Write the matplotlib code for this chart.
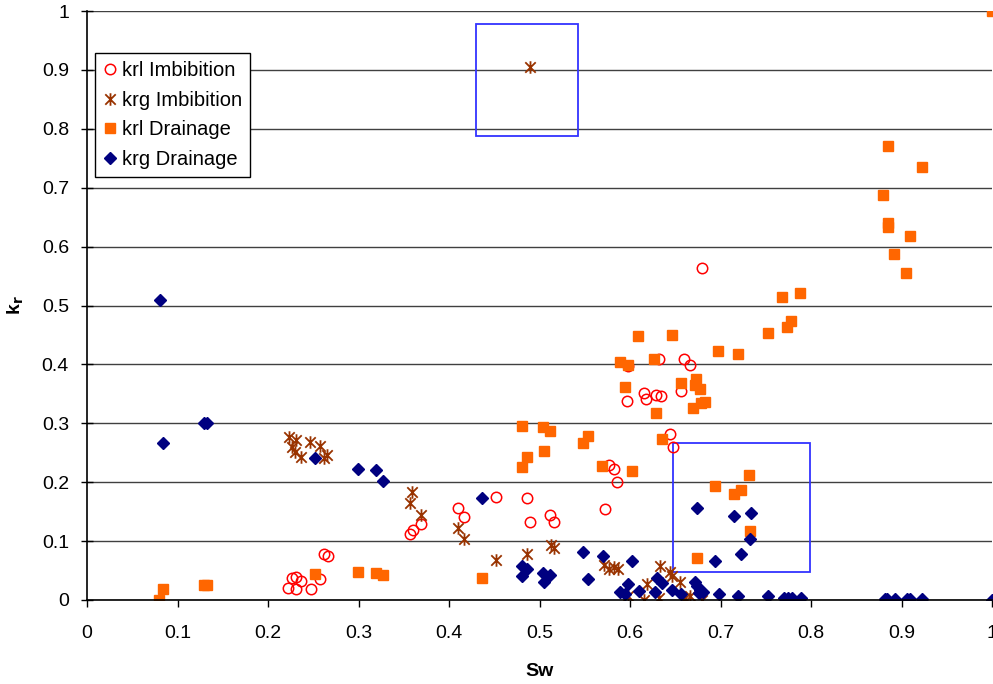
import matplotlib
matplotlib.use("Agg")
import matplotlib.pyplot as plt
from matplotlib.path import Path
from matplotlib.patches import Rectangle

plt.rcParams['font.family'] = ['Liberation Sans', 'DejaVu Sans']
plt.rcParams['font.size'] = 14

# krl Imbibition
sw_krl_imb = [0.222, 0.227, 0.231, 0.231, 0.237, 0.247, 0.258, 0.262, 0.266,
              0.357, 0.360, 0.369, 0.410, 0.417, 0.452, 0.486, 0.490, 0.512, 0.516,
              0.572, 0.577, 0.582, 0.586, 0.597, 0.598, 0.615, 0.618, 0.629, 0.634,
              0.632, 0.644, 0.647, 0.656, 0.660, 0.666, 0.680]
kr_krl_imb = [0.020, 0.038, 0.018, 0.039, 0.033, 0.019, 0.036, 0.078, 0.074,
              0.112, 0.119, 0.129, 0.157, 0.141, 0.175, 0.174, 0.132, 0.145, 0.132,
              0.154, 0.229, 0.222, 0.201, 0.338, 0.397, 0.351, 0.341, 0.348, 0.346,
              0.410, 0.282, 0.260, 0.354, 0.410, 0.399, 0.564]

# krg Imbibition
sw_krg_imb = [0.223, 0.231, 0.227, 0.230, 0.236, 0.246, 0.258, 0.265, 0.262,
              0.3595, 0.357, 0.369, 0.410, 0.417, 0.452, 0.486, 0.513, 0.516,
              0.571, 0.577, 0.582, 0.587, 0.598, 0.615, 0.619, 0.633, 0.632,
              0.644, 0.646, 0.655, 0.661, 0.666, 0.680, 0.4895]
kr_krg_imb = [0.276, 0.272, 0.260, 0.252, 0.243, 0.268, 0.262, 0.247, 0.241,
              0.183, 0.164, 0.144, 0.123, 0.104, 0.068, 0.078, 0.093, 0.088,
              0.059, 0.052, 0.056, 0.052, 0.007, 0.000, 0.028, 0.057, 0.003,
              0.048, 0.040, 0.031, 0.003, 0.007, 0.000, 0.905]

# krl Drainage
sw_krl_dr = [0.080, 0.084, 0.129, 0.133, 0.252, 0.299, 0.319, 0.327,
             0.436, 0.481, 0.486, 0.481, 0.504, 0.512, 0.505, 0.548, 0.554,
             0.569, 0.602, 0.594, 0.629, 0.635, 0.609, 0.646, 0.589, 0.598,
             0.627, 0.656, 0.673, 0.672, 0.677, 0.670, 0.679, 0.683, 0.697,
             0.719, 0.753, 0.773, 0.778, 0.768, 0.788, 0.694, 0.732, 0.7145,
             0.723, 0.733, 0.674, 0.885, 0.923, 0.880, 0.885, 0.885, 0.909,
             0.892, 0.905, 1.000]
kr_krl_dr = [0.000, 0.018, 0.026, 0.025, 0.044, 0.047, 0.045, 0.042,
             0.037, 0.296, 0.243, 0.226, 0.293, 0.287, 0.253, 0.266, 0.279,
             0.228, 0.219, 0.362, 0.318, 0.273, 0.448, 0.450, 0.404, 0.399,
             0.410, 0.369, 0.376, 0.365, 0.358, 0.326, 0.335, 0.337, 0.423,
             0.417, 0.454, 0.464, 0.473, 0.515, 0.521, 0.193, 0.212, 0.180,
             0.186, 0.117, 0.072, 0.771, 0.735, 0.688, 0.640, 0.633, 0.618,
             0.587, 0.556, 1.000]

# krg Drainage
sw_krg_dr = [0.081, 0.084, 0.129, 0.133, 0.252, 0.299, 0.319, 0.327,
             0.436, 0.481, 0.486, 0.481, 0.504, 0.512, 0.505, 0.548, 0.554,
             0.570, 0.602, 0.589, 0.594, 0.598, 0.610, 0.628, 0.630, 0.635,
             0.646, 0.656, 0.672, 0.674, 0.677, 0.681, 0.676, 0.698, 0.719,
             0.753, 0.770, 0.775, 0.779, 0.789, 0.674, 0.715, 0.734, 0.733,
             0.723, 0.694, 0.882, 0.884, 0.893, 0.906, 0.909, 0.923, 1.000]
kr_krg_dr = [0.509, 0.266, 0.301, 0.300, 0.241, 0.222, 0.221, 0.202,
             0.174, 0.058, 0.052, 0.040, 0.045, 0.042, 0.031, 0.082, 0.035,
             0.074, 0.066, 0.014, 0.011, 0.027, 0.016, 0.014, 0.037, 0.029,
             0.017, 0.010, 0.031, 0.023, 0.017, 0.014, 0.012, 0.010, 0.007,
             0.007, 0.004, 0.004, 0.004, 0.003, 0.157, 0.143, 0.148, 0.103,
             0.078, 0.066, 0.001, 0.001, 0.001, 0.001, 0.001, 0.001, 0.000]

# marked regions (Sw0, Sw1, kr0, kr1)
boxes = [(0.430, 0.5425, 0.788, 0.978), (0.6475, 0.799, 0.0475, 0.2666)]

star = Path([(-1, -1), (1, 1), (-1, 1), (1, -1), (0, -1.2), (0, 1.2)],
            [Path.MOVETO, Path.LINETO, Path.MOVETO, Path.LINETO, Path.MOVETO, Path.LINETO])

fig = plt.figure(figsize=(9.93, 6.84), dpi=100)
ax = fig.add_axes([87 / 993, 84 / 684, 905 / 993, 589 / 684])

ax.plot(sw_krl_imb, kr_krl_imb, 'o', ms=7.5, mfc='none', mec='#FF0000', mew=1.1,
        label='krl Imbibition')
ax.plot(sw_krg_imb, kr_krg_imb, ls='none', marker=star, ms=9, mec='#993300', mew=1.3,
        label='krg Imbibition')
ax.plot(sw_krl_dr, kr_krl_dr, 's', ms=7.5, color='#FF6600', label='krl Drainage')
ax.plot(sw_krg_dr, kr_krg_dr, 'D', ms=6, color='#000080', label='krg Drainage')

for x0, x1, y0, y1 in boxes:
    ax.add_patch(Rectangle((x0, y0), x1 - x0, y1 - y0, fill=False, ec='#3333FF', lw=1.3))

ax.set_xlim(0, 1)
ax.set_ylim(0, 1)
ticks = [i / 10 for i in range(11)]
tlabels = ['0', '0.1', '0.2', '0.3', '0.4', '0.5', '0.6', '0.7', '0.8', '0.9', '1']
ax.set_xticks(ticks)
ax.set_xticklabels(tlabels)
ax.set_yticks(ticks)
ax.set_yticklabels(tlabels)
ax.tick_params(axis='x', direction='out', length=5, width=1, pad=13, labelsize=14)
ax.tick_params(axis='y', direction='inout', length=8, width=1, pad=9, labelsize=14)
ax.grid(axis='y', color='#404040', lw=1)
ax.set_axisbelow(True)
for s in ['top', 'right']:
    ax.spines[s].set_visible(False)
for s in ['left', 'bottom']:
    ax.spines[s].set_linewidth(1.2)

ax.set_xlabel('Sw', fontweight='bold', fontsize=14, labelpad=15)
ax.set_ylabel('k$_\\mathbf{r}$', fontweight='bold', fontsize=14, labelpad=11)

leg = ax.legend(loc='upper left', bbox_to_anchor=(0.009, 0.929), fontsize=14.5,
                fancybox=False, framealpha=1, edgecolor='black', borderpad=0.42,
                handletextpad=0.3, labelspacing=0.52, handlelength=0.6, borderaxespad=0)
leg.get_frame().set_linewidth(1)

fig.savefig('out.png', dpi=100)
